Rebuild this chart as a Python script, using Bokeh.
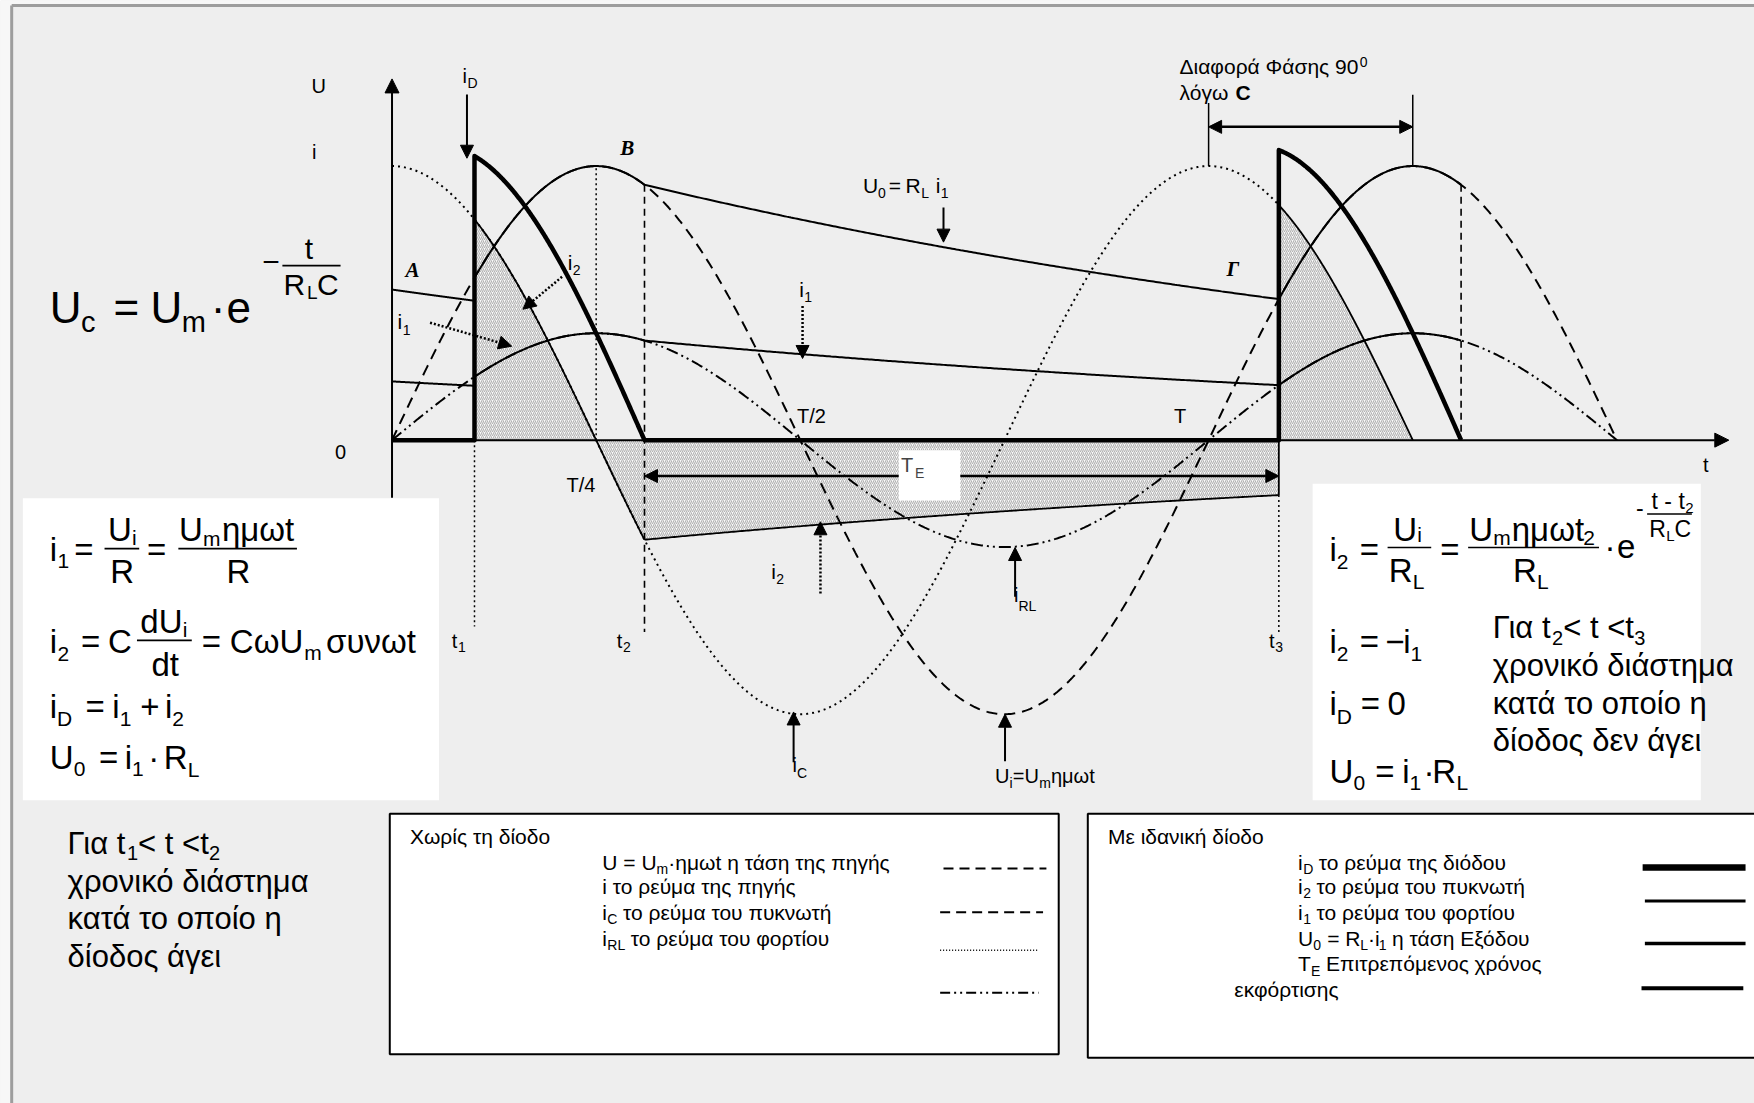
import numpy as np
from bokeh.plotting import figure
from bokeh.models import Range1d, Arrow, NormalHead, BoxAnnotation, Label
from bokeh.core.properties import value
from bokeh.embed import file_html
from bokeh.resources import INLINE

# ---------------- circuit quantities (time in periods T, amplitudes in Um) ----------------
UM = 1.0          # source amplitude Um
IC_AMP = 1.0      # capacitor current amplitude  ωC·Um
IRL_AMP = 0.39    # load current amplitude       Um/RL
T1 = 0.101        # diode starts conducting
T3 = 1.086        # diode starts conducting again
T_END = 1.5
PHASE_SHIFT = 0.25  # 90 degrees between i_C and U

W = 2 * np.pi
RL = UM / IRL_AMP
T2 = (np.pi - np.arctan(IC_AMP / IRL_AMP)) / W      # iD = i1 + i2 falls to zero


def u_src(t):
    return UM * np.sin(W * t)


def i_cap(t):
    return IC_AMP * np.cos(W * t)


def i_load(t):
    return IRL_AMP * np.sin(W * t)


U2, U3 = u_src(T2), u_src(T3)
TAU = (T3 - T2) / np.log(U2 / U3)                     # RL·C in periods


def u_out(t):
    """capacitor discharge Uc = U(t2)·exp(-(t - t2)/RLC)"""
    return U2 * np.exp(-(t - T2) / TAU)


def span(a, b, n=300):
    return np.linspace(a, b, n)


# ---------------- sheet layout ----------------
SHEET_W, SHEET_H = 1568, 986
PX = 1754 / SHEET_W                                   # screen pixels per sheet unit
ORIGIN_X, ORIGIN_Y = 350, 393
PERIOD_W, AMP_H = 730, 245
X_LO, X_HI = -ORIGIN_X / PERIOD_W, (SHEET_W - ORIGIN_X) / PERIOD_W
Y_LO, Y_HI = -(SHEET_H - ORIGIN_Y) / AMP_H, ORIGIN_Y / AMP_H

SANS = "Liberation Sans"
SERIF = "Liberation Serif"
BG = "#eeeeee"

p = figure(width=1754, height=1103, x_range=Range1d(X_LO, X_HI), y_range=Range1d(Y_LO, Y_HI),
           output_backend="svg", toolbar_location=None, x_axis_location=None, y_axis_location=None,
           min_border=0, outline_line_color=None, background_fill_color=BG, border_fill_color=BG)
p.extra_x_ranges = {"sheet": Range1d(0, SHEET_W)}
p.extra_y_ranges = {"sheet": Range1d(SHEET_H, 0)}
p.grid.visible = False

S = dict(x_range_name="sheet", y_range_name="sheet")


def sline(xs, ys, **kw):
    p.line(xs, ys, line_color=kw.pop("color", "black"), **S, **kw)


# page margin and frame
p.quad(left=[0, 0], right=[10, SHEET_W], top=[0, 0], bottom=[SHEET_H, 4.5], fill_color="#f7f7f7",
       line_color=None, **S)
sline([10, SHEET_W], [4.5, 4.5], color="#9d9d9d", line_width=3)
sline([10, 10], [4.5, SHEET_H], color="#9d9d9d", line_width=3)

# ---------------- hatched capacitor current i2 ----------------
ta, tb, tc = span(T1, T2), span(T2, T3), span(T3, 1.25)
hatch = dict(fill_color="#fbfbfb", fill_alpha=1, line_color=None, hatch_pattern="right_diagonal_line",
             hatch_color="#b2b2b2", hatch_scale=4, hatch_weight=1.1)
p.patch(np.r_[T1, ta, tb, T3], np.r_[0, i_cap(ta), -u_out(tb) / RL, 0], **hatch)
p.patch(np.r_[T3, tc, 1.25], np.r_[0, i_cap(tc), 0], **hatch)

# ---------------- guide verticals ----------------
p.line([0.25, 0.25], [0, UM], line_dash="2 3", line_width=1.5, line_color="black")
p.line([T2, T2], [U2, -0.70], line_dash="7 5", line_width=1.6, line_color="black")
p.line([T2 + 1, T2 + 1], [U2, 0], line_dash="7 5", line_width=1.6, line_color="black")
p.line([T1, T1], [0, -0.68], line_dash="2 3", line_width=1.5, line_color="black")
p.line([T3, T3], [-u_out(T3) / RL, -0.70], line_dash="2 3", line_width=1.5, line_color="black")
# phase difference marks (T and T + T/4)
p.line([1.0, 1.0], [UM, 1.23], line_width=1.5, line_color="black")
p.line([1.0 + PHASE_SHIFT] * 2, [UM, 1.26], line_width=1.5, line_color="black")

# ---------------- curves without the diode ----------------
t_all = span(0, T_END, 900)
p.line(t_all, u_src(t_all), line_dash="11 7", line_width=2, line_color="black")
p.line(t_all, i_load(t_all), line_dash="12 4 2 4 2 4", line_width=2, line_color="black")
t_c = span(0, T3, 700)
p.line(t_c, i_cap(t_c), line_dash="2 4", line_width=2, line_color="black")

# ---------------- curves with the ideal diode ----------------
td = span(T3, T2 + 1)
t_pre = span(0, T1)
# output voltage U0
p.line(t_pre, u_out(t_pre + 1), line_width=2, line_color="black")
p.line(np.r_[ta, tb, td], np.r_[u_src(ta), u_out(tb), u_src(td)], line_width=2, line_color="black")
# load current i1 = U0 / RL
p.line(t_pre, u_out(t_pre + 1) / RL, line_width=2, line_color="black")
p.line(np.r_[ta, tb, td], np.r_[i_load(ta), u_out(tb) / RL, i_load(td)], line_width=2, line_color="black")
# capacitor current i2
p.line(ta, i_cap(ta), line_width=1.8, line_color="black")
p.line(tb, -u_out(tb) / RL, line_width=1.8, line_color="black")
p.line([T3, T3], [0, -u_out(T3) / RL], line_width=1.8, line_color="black")
p.line(tc, i_cap(tc), line_width=1.8, line_color="black")
# diode current iD = i1 + i2
p.line(np.r_[0, T1, ta, T2, T3, td],
       np.r_[0, 0, i_cap(ta) + i_load(ta), 0, 0, i_cap(td) + i_load(td)],
       line_width=4.5, line_color="black", line_join="round")

# ---------------- white formula panels and legend frames ----------------
p.quad(left=[20, 1173], right=[392, 1520], top=[445, 432], bottom=[715, 715],
       fill_color="white", line_color=None, **S)
p.quad(left=[348, 972], right=[946, 1580], top=[727, 727], bottom=[942, 945],
       fill_color="white", line_color="black", line_width=2, **S)

sline([843, 935], [776, 776], line_dash="10 6", line_width=2)
sline([840, 932], [815, 815], line_dash="10 6", line_width=2)
sline([840, 928], [849, 849], line_dash="1 2", line_width=1.5)
sline([840, 928], [887, 887], line_dash="10 4 2 4 2 4", line_width=2)
sline([1468, 1560], [775, 775], line_width=6.5)
sline([1470, 1560], [805, 805], line_width=3)
sline([1470, 1560], [843, 843], line_width=3.5)
sline([1467, 1558], [883, 883], line_width=4)

# fraction bars
for x0, x1, y in [(252, 304, 237), (93, 124, 490), (159, 265, 490), (122, 171, 572),
                  (1240, 1279, 489), (1312, 1429, 489), (1472, 1512, 459)]:
    sline([x0, x1], [y, y], line_width=1.6)

# ---------------- texts (x = left edge, y = baseline, in sheet units) ----------------
runs = []


def mid(y, size):
    """em-box middle for a text whose baseline sits at y"""
    return y - 0.31 * size / PX


def put(x, y, s, size=21, font=SANS, style="normal"):
    runs.append((x, mid(y, size), s, size, font, style))


# axis letters
put(278, 82, "U", 20); put(278.5, 141, "i", 20); put(299, 409, "0", 20); put(1522, 421, "t", 20)
put(413, 73, "i", 20); put(417.5, 78, "D", 14)
put(362, 247, "A", 21, SERIF, "bold italic")
put(554, 138, "B", 21, SERIF, "bold italic")
put(1096, 246, "Γ", 21, SERIF, "bold italic")
# U0 = RL i1
put(771, 171, "U", 21); put(784.5, 176, "0", 14); put(794, 171, "=", 21)
put(809, 171, "R", 21); put(823, 176, "L", 14); put(836, 171, "i", 21); put(840.5, 176, "1", 14)
put(714, 264, "i", 21); put(718.5, 269, "1", 14)
put(507, 240, "i", 21); put(511.5, 245, "2", 14)
put(355, 293, "i", 21); put(359.5, 298, "1", 14)
put(712, 377, "T/2", 20); put(1049, 377, "T", 20); put(506, 439, "T/4", 20)
put(689, 516, "i", 21); put(693.5, 521, "2", 14)
put(906, 537, "i", 20); put(910, 545, "RL", 14)
put(708, 689, "i", 20); put(712, 694, "C", 14)
put(889, 699, "U", 20); put(902, 703, "i", 14); put(905, 699, "=U", 20); put(928.5, 703, "m", 14)
put(939, 699, "ημωt", 20)
put(1054, 65, "Διαφορά Φάσης 90", 21); put(1215, 59, "0", 14)
put(1054, 88, "λόγω", 21); put(1104, 88, "C", 21, SANS, "bold")
put(403.5, 578, "t", 20); put(409, 582, "1", 14)
put(551, 578, "t", 20); put(556.5, 582, "2", 14)
put(1134, 578, "t", 20); put(1139.5, 582, "3", 14)

# Uc = Um · e^(-t/RLC)
put(44, 287, "U", 44); put(72, 295, "c", 29); put(101, 287, "=", 44); put(134, 287, "U", 44)
put(162, 295, "m", 29); put(188, 287, "·", 44); put(202, 287, "e", 44)
put(234, 242, "−", 30); put(272, 230, "t", 30); put(253, 262, "R", 30); put(274, 266, "L", 19)
put(283, 262, "C", 30)

# left panel: conduction interval
put(44, 500, "i", 33); put(51, 507, "1", 21); put(66, 500, "=", 33)
put(96, 482, "U", 33); put(117.5, 486, "i", 21); put(98, 520, "R", 33)
put(131, 500, "=", 33)
put(159.5, 482, "U", 33); put(181, 487, "m", 21); put(198, 482, "ημωt", 33); put(202, 520, "R", 33)
put(44, 582, "i", 33); put(51, 590, "2", 21); put(72, 582, "=", 33); put(96, 582, "C", 33)
put(125, 564, "dU", 33); put(163, 568, "i", 21); put(135, 603, "dt", 33)
put(180, 582, "=", 33); put(205, 582, "CωU", 33); put(271.5, 589, "m", 21); put(291, 582, "συνωt", 33)
put(44, 640, "i", 33); put(50.5, 648, "D", 21); put(76, 640, "=", 33); put(100, 640, "i", 33)
put(106.5, 648, "1", 21); put(125, 640, "+", 33); put(147, 640, "i", 33); put(153.5, 648, "2", 21)
put(44, 686, "U", 33); put(65.5, 693, "0", 21); put(88, 686, "=", 33); put(111, 686, "i", 33)
put(117.5, 693, "1", 21); put(132, 686, "·", 33); put(146, 686, "R", 33); put(167.5, 693, "L", 21)

# right panel: non-conduction interval
put(1188, 500, "i", 33); put(1194.5, 508, "2", 21); put(1215, 500, "=", 33)
put(1245, 482, "U", 33); put(1266.5, 483, "i", 21); put(1241, 519, "R", 33); put(1262.5, 525, "L", 21)
put(1287, 500, "=", 33)
put(1313, 482, "U", 33); put(1334.5, 486, "m", 21); put(1351, 482, "ημωt", 33); put(1415, 486, "2", 21)
put(1352, 519, "R", 33); put(1373.5, 525, "L", 21)
put(1434, 497, "·", 33); put(1445, 497, "e", 33)
put(1462, 460, "-", 23); put(1476, 454, "t - t", 23); put(1506, 458, "2", 15)
put(1474, 479, "R", 23); put(1489, 482, "L", 15); put(1496.5, 479, "C", 23)
put(1188, 582, "i", 33); put(1194.5, 590, "2", 21); put(1215, 582, "=", 33); put(1238, 582, "−", 33)
put(1254, 582, "i", 33); put(1260.5, 590, "1", 21)
put(1188, 638, "i", 33); put(1194.5, 646, "D", 21); put(1216, 638, "=", 33); put(1240, 638, "0", 33)
put(1188, 698, "U", 33); put(1209.5, 705, "0", 21); put(1229, 698, "=", 33); put(1253, 698, "i", 33)
put(1259.5, 705, "1", 21); put(1272, 698, "·", 33); put(1280, 698, "R", 33); put(1301.5, 705, "L", 21)

put(1334, 569, "Για t", 31); put(1387, 575, "2", 20); put(1397, 569, "< t <t", 31); put(1460.5, 575, "3", 20)
put(1334, 603, "χρονικό διάστημα", 31); put(1334, 637, "κατά το οποίο η", 31)
put(1334, 670, "δίοδος δεν άγει", 31)

put(60, 762, "Για t", 31); put(113, 768, "1", 20); put(123, 762, "< t <t", 31); put(186.5, 768, "2", 20)
put(60, 796, "χρονικό διάστημα", 31); put(60, 829, "κατά το οποίο η", 31)
put(60, 863, "δίοδος άγει", 31)

# legend: without the diode
put(366, 753, "Χωρίς τη δίοδο", 21)
put(538, 776, "U = U", 21); put(586.5, 780, "m", 14); put(597, 776, "·ημωt η τάση της πηγής", 21)
put(538, 798, "i το ρεύμα της πηγής", 21)
put(538, 821, "i", 21); put(542.5, 825, "C", 14); put(556.5, 821, "το ρεύμα του πυκνωτή", 21)
put(538, 844, "i", 21); put(542.5, 848, "RL", 14); put(563.5, 844, "το ρεύμα του φορτίου", 21)

# legend: with the ideal diode
put(990, 753, "Με ιδανική δίοδο", 21)
put(1160, 776, "i", 21); put(1164.5, 780, "D", 14); put(1178.5, 776, "το ρεύμα της διόδου", 21)
put(1160, 798, "i", 21); put(1164.5, 802, "2", 14); put(1176.5, 798, "το ρεύμα του πυκνωτή", 21)
put(1160, 821, "i", 21); put(1164.5, 825, "1", 14); put(1176.5, 821, "το ρεύμα του φορτίου", 21)
put(1160, 844, "U", 21); put(1173.5, 848, "0", 14); put(1186, 844, "= R", 21); put(1215.5, 848, "L", 14)
put(1222.5, 844, "·i", 21); put(1232, 848, "1", 14); put(1244, 844, "η τάση Εξόδου", 21)
put(1160, 867, "T", 21); put(1171.5, 871, "E", 14); put(1185, 867, "Επιτρεπόμενος χρόνος", 21)
put(1103, 890, "εκφόρτισης", 21)

groups = {}
for x, y, s, size, font, style in runs:
    groups.setdefault((size, font, style), []).append((x, y, s))
for (size, font, style), items in groups.items():
    xs, ys, ss = zip(*items)
    p.text(x=list(xs), y=list(ys), text=list(ss), text_font=value(font), text_font_size=f"{size}px",
           text_font_style=style, text_align="left", text_baseline="middle", text_color="black", **S)


# ---------------- arrows ----------------
def head(size=13):
    return NormalHead(size=size, fill_color="black", line_color="black", line_width=1)


def arrow(x0, y0, x1, y1, dash="solid", width=2.0, both=False, sheet=True, size=13):
    kw = dict(S) if sheet else {}
    p.add_layout(Arrow(x_start=x0, y_start=y0, x_end=x1, y_end=y1, end=head(size),
                       start=head(size) if both else None, line_width=width, line_dash=dash,
                       line_color="black", **kw))


# axes
arrow(0, -0.21, 0, 1.318, sheet=False, width=2, size=14)
arrow(0, 0, 1.637, 0, sheet=False, width=2, size=14)
# 90 degree phase difference and allowed discharge time
arrow(1.0, 1.143, 1.0 + PHASE_SHIFT, 1.143, both=True, sheet=False, width=2.5)
arrow(T2, -0.131, T3, -0.131, both=True, sheet=False, width=2.5)

# pointers to the curves
arrow(417, 84, 417, 141)
arrow(843, 185, 843, 216)
arrow(907, 533, 907, 489)
arrow(709, 681, 709, 636)
arrow(898, 680, 898, 638)
arrow(717, 273, 717, 320, dash="2 2", width=2.5)
arrow(502, 247, 467, 276, dash="2 2", width=2.5)
arrow(384, 288, 457, 309, dash="2 2", width=2.5)
arrow(733, 530, 733, 466, dash="2 2", width=2.5)

# TE tag over the discharge arrow
p.add_layout(BoxAnnotation(left=803, right=858, top=402, bottom=447, fill_color="white", fill_alpha=1,
                           line_color=None, **S))
p.add_layout(Label(x=805, y=mid(421, 20), text="T", text_font=SANS, text_font_size="20px",
                   text_baseline="middle", **S))
p.add_layout(Label(x=817.5, y=mid(426, 14), text="E", text_font=SANS, text_font_size="14px",
                   text_baseline="middle", **S))

open("out.html", "w").write(file_html(p, INLINE))
